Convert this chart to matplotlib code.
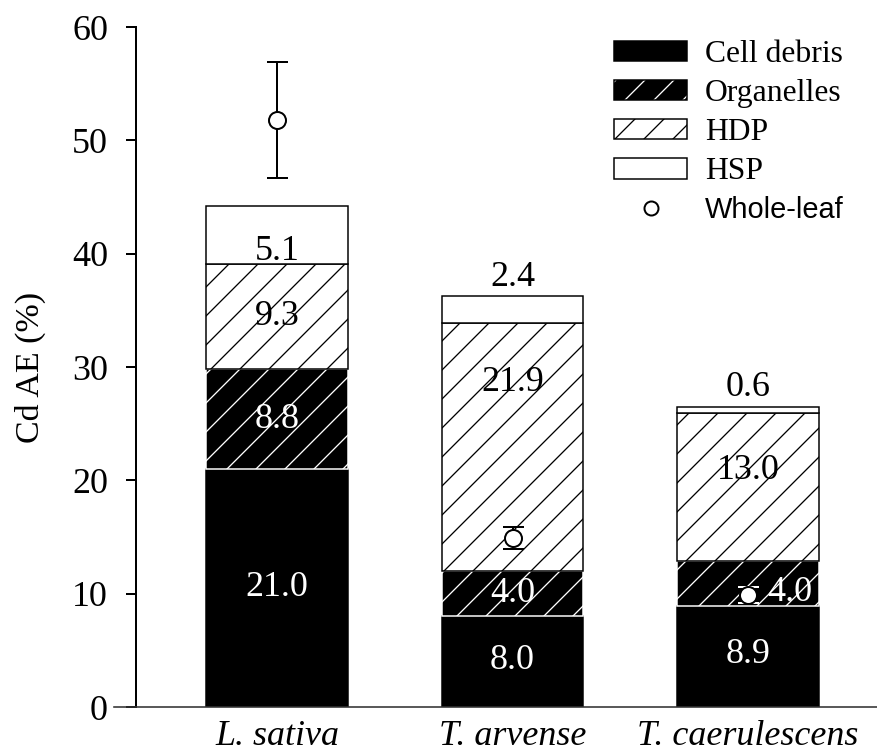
import matplotlib
matplotlib.use("Agg")
import matplotlib.pyplot as plt
from matplotlib.patches import Patch
from matplotlib.lines import Line2D
from matplotlib.legend_handler import HandlerTuple
import numpy as np

# data
species = ["L. sativa", "T. arvense", "T. caerulescens"]
cell_debris = [21.0, 8.0, 8.9]
organelles = [8.8, 4.0, 4.0]
hdp = [9.3, 21.9, 13.0]
hsp = [5.1, 2.4, 0.6]
whole_leaf = [51.8, 14.9, 9.9]
whole_leaf_err = [5.1, 1.0, 0.7]

# where the value labels sit (y in data units) and their colour
lab_x = [[0, 0, 0, 0], [1, 1, 1, 1], [2, 2.178, 2, 2]]
lab_y = [[10.5, 25.4, 34.5, 40.2], [4.1, 10.0, 28.6, 37.9], [4.6, 10.1, 20.9, 28.2]]
lab_col = ["white", "white", "black", "black"]

DPI = 174
W, H = 877, 756
PT = 72.0 / DPI  # points per pixel

plt.rcParams["font.family"] = ["Liberation Serif", "DejaVu Serif"]
plt.rcParams["hatch.linewidth"] = 1.3 * PT
fs = 36 * PT

fig = plt.figure(figsize=(W / DPI, H / DPI), dpi=DPI)
ax = fig.add_axes([136 / W, (H - 707) / H, (W - 136) / W, (707 - 27) / H])

x = np.arange(len(species))
bw = 0.603
cd = np.array(cell_debris)
org = np.array(organelles)
hd = np.array(hdp)
hs = np.array(hsp)

ax.bar(x, cd, bw, color="black", edgecolor="black", linewidth=1.5 * PT, zorder=2)
ax.bar(x, org, bw, bottom=cd, color="black", edgecolor="white", hatch="//",
       linewidth=1.5 * PT, zorder=2)
ax.bar(x, hd, bw, bottom=cd + org, color="white", edgecolor="black", hatch="//",
       linewidth=1.5 * PT, zorder=2)
ax.bar(x, hs, bw, bottom=cd + org + hd, color="white", edgecolor="black",
       linewidth=1.5 * PT, zorder=2)

# whole leaf points
for i in range(3):
    ecol = "white" if i == 2 else "black"
    ax.errorbar(x[i], whole_leaf[i], yerr=whole_leaf_err[i], fmt="o", ms=17 * PT,
                mfc="white", mec="black", mew=2 * PT, ecolor=ecol,
                elinewidth=2 * PT, capsize=10.5 * PT, capthick=2 * PT, zorder=4)

# value labels
segs = [cell_debris, organelles, hdp, hsp]
for i in range(3):
    for j in range(4):
        ax.text(lab_x[i][j], lab_y[i][j], "%.1f" % segs[j][i], ha="center",
                va="center", fontsize=fs, color=lab_col[j], zorder=5)

ax.set_xlim(-0.599, 2.548)
ax.set_ylim(0, 60)
ax.set_yticks(range(0, 61, 10))
ax.set_xticks(x)
ax.set_xticklabels(species, fontsize=fs, style="italic")
ax.tick_params(axis="x", length=0, pad=13 * PT)
ax.tick_params(axis="y", labelsize=fs, length=10 * PT, width=2 * PT, pad=18 * PT)
for s in ["top", "right", "bottom"]:
    ax.spines[s].set_visible(False)
ax.spines["left"].set_linewidth(2 * PT)
ax.axhline(0, xmin=-0.0297, xmax=1, color="#333333", lw=1.6 * PT, clip_on=False, zorder=3)

fig.text(30 / W, 1 - 367 / H, "Cd AE (%)", rotation=90, ha="center", va="center",
         fontsize=34 * PT)

# legend
handles = [
    Patch(facecolor="black", edgecolor="black", linewidth=1.5 * PT),
    (Patch(facecolor="black", edgecolor="white", hatch="//", linewidth=0),
     Patch(fill=False, edgecolor="black", linewidth=1.5 * PT)),
    Patch(facecolor="white", edgecolor="black", hatch="//", linewidth=1.5 * PT),
    Patch(facecolor="white", edgecolor="black", linewidth=1.5 * PT),
    Line2D([], [], ls="none", marker="o", ms=14 * PT, mfc="white", mec="black",
           mew=2 * PT),
]
labels = ["Cell debris", "Organelles", "HDP", "HSP", "Whole-leaf"]
lfs = 31.6 * PT
leg = ax.legend(handles, labels, loc="upper left",
                bbox_to_anchor=(614 / W, 1 - 40 / H), bbox_transform=fig.transFigure,
                frameon=False, fontsize=lfs, handlelength=73 / 31.6,
                handleheight=20 / 31.6, handletextpad=18 / 31.6,
                labelspacing=0.32, borderpad=0, borderaxespad=0,
                handler_map={tuple: HandlerTuple(ndivide=1)})
wl = leg.get_texts()[4]
wl.set_fontfamily(["Liberation Sans", "DejaVu Sans"])
wl.set_fontsize(29 * PT)

fig.savefig("out.png", dpi=DPI)
